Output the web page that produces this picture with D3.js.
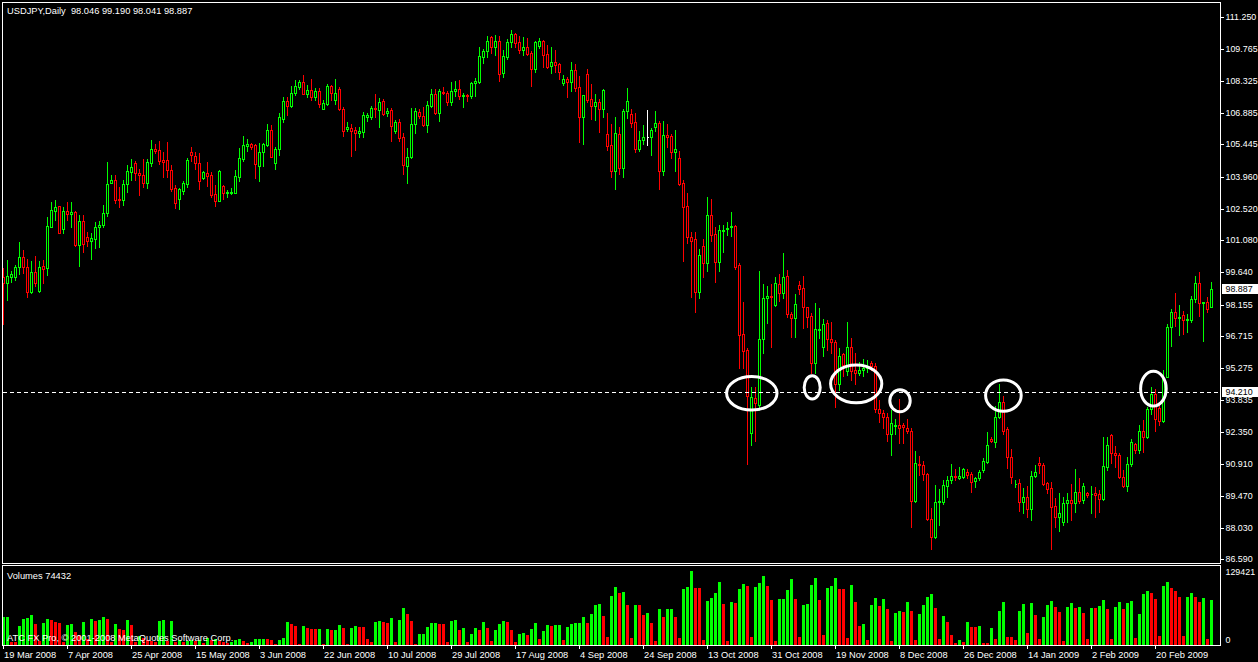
<!DOCTYPE html>
<html><head><meta charset="utf-8">
<script src="https://cdn.jsdelivr.net/npm/d3@7"></script>
<style>html,body{margin:0;padding:0;background:#000;overflow:hidden}</style>
</head><body>
<svg id="c" width="1258" height="662"></svg>
<script>
// ---------- DATA (USDJPY daily) ----------
const symbolTitle = "USDJPY,Daily";
const openP = [
99.40,99.16,99.43,99.40,99.86,100.31,99.86,98.75,99.63,98.80,
99.90,99.81,101.70,102.43,102.64,101.62,102.42,102.28,102.37,100.87,
101.96,101.25,101.07,101.16,101.68,101.77,102.34,103.70,103.81,102.98,
102.93,103.63,104.20,104.58,104.13,104.06,103.70,104.62,105.24,105.19,
104.74,104.74,104.28,103.45,102.95,103.34,103.63,105.12,104.93,104.59,
103.93,104.13,104.04,103.19,102.89,103.55,103.22,103.22,103.25,103.98,
104.78,105.39,105.46,105.42,104.48,105.12,105.42,106.10,104.62,105.22,
106.60,107.42,107.19,107.77,108.04,108.28,107.74,107.92,107.60,107.89,
107.07,107.28,108.10,107.46,107.95,107.04,106.13,106.18,106.10,105.95,
106.02,106.68,106.70,107.10,107.01,107.43,106.86,107.00,106.05,106.48,
105.80,104.48,104.86,106.36,106.92,106.75,106.33,107.19,107.74,106.86,
107.84,107.77,107.36,107.89,107.96,107.66,107.68,107.65,108.22,108.30,
109.43,109.68,110.31,109.89,110.13,108.68,109.43,110.08,110.46,110.08,
109.74,109.86,109.61,108.87,109.92,110.13,109.55,109.02,109.19,109.10,
108.25,108.40,108.30,108.83,108.04,106.71,108.65,107.49,107.20,107.37,
107.04,105.90,105.42,104.25,105.92,104.39,106.96,106.81,106.45,105.24,
105.65,105.77,105.77,106.22,106.40,104.25,105.86,105.83,105.11,104.83,
103.68,102.64,101.25,101.13,98.75,100.83,100.04,102.24,101.37,100.11,
101.50,101.58,101.69,101.74,99.96,96.83,96.10,92.34,93.90,93.60,
96.58,98.45,98.55,98.13,99.10,98.71,99.46,97.72,97.54,99.04,
98.90,98.04,97.64,95.52,97.00,96.22,97.31,96.58,96.48,94.55,
95.90,95.15,96.25,95.19,95.04,95.19,95.27,95.50,95.35,93.43,
93.22,93.04,92.28,92.65,92.70,92.69,92.57,92.43,89.25,90.92,
90.86,90.46,88.40,87.59,89.20,89.17,89.93,90.19,90.37,90.26,
90.34,90.57,90.45,90.16,90.27,90.64,91.02,92.05,91.93,93.04,
93.74,92.49,91.22,90.00,90.04,89.20,89.40,88.86,90.37,90.95,
90.86,90.04,89.83,89.01,88.52,88.30,89.13,89.28,89.16,89.66,
89.28,89.61,89.54,89.61,89.55,89.31,90.80,92.22,91.40,91.33,
90.34,89.93,90.90,91.81,91.55,92.42,92.16,93.43,94.10,93.45,
92.89,94.89,97.13,97.83,97.57,97.69,97.46,97.46,98.40,99.13,
98.22,98.27,98.046];
const highP = [
99.81,100.19,99.69,99.96,101.00,100.65,100.22,100.14,100.39,100.14,
100.19,102.16,102.84,102.92,102.64,102.58,102.83,102.83,102.42,102.24,
102.24,101.45,101.43,101.93,101.96,102.69,104.65,104.06,104.06,103.52,
103.83,104.51,104.80,104.70,104.31,104.80,104.78,105.65,105.46,105.59,
105.10,105.56,104.51,103.60,103.45,103.80,104.84,105.31,105.12,105.05,
104.24,104.65,104.18,103.60,104.28,103.60,103.37,103.45,104.28,105.28,
105.83,105.69,105.52,105.46,105.49,105.52,106.37,106.33,105.31,106.86,
107.60,107.60,108.10,108.37,108.37,108.58,108.15,108.40,107.99,107.99,
107.46,108.19,108.15,108.40,108.04,107.16,106.48,106.37,106.22,106.22,
106.90,106.85,107.20,107.74,107.54,107.52,107.10,107.12,106.55,106.60,
105.95,105.27,107.08,107.08,107.04,107.13,107.43,107.95,107.95,107.95,
108.07,107.89,108.30,108.33,108.37,107.80,107.74,108.28,108.45,109.89,
109.80,110.37,110.37,110.42,110.37,109.74,110.24,110.65,110.49,110.37,
110.31,110.27,109.71,110.16,110.27,110.19,109.95,109.86,109.74,109.16,
108.60,108.49,109.20,109.10,108.55,107.69,108.87,108.19,107.72,107.49,
107.96,106.89,106.37,106.70,106.25,107.04,108.01,107.04,106.86,106.05,
106.33,107.01,106.18,106.98,106.51,106.51,106.37,105.92,106.10,105.14,
103.83,103.22,101.48,101.48,100.67,101.13,103.04,102.96,101.70,101.78,
101.78,101.93,102.36,101.78,100.04,98.30,96.20,94.40,94.40,99.69,
99.10,99.00,99.10,99.43,99.55,100.49,99.74,97.84,98.63,99.24,
99.46,98.07,97.77,98.22,97.99,97.49,97.46,97.39,96.55,96.17,
95.95,97.36,96.63,95.95,95.57,95.70,95.65,95.60,95.50,93.83,
93.37,93.22,93.37,92.95,93.86,92.80,92.95,92.54,91.50,91.28,
91.07,90.49,88.90,89.96,89.77,90.19,90.37,90.92,90.68,90.80,
90.72,90.68,90.57,90.34,90.64,91.17,92.39,92.13,93.56,94.55,
94.01,92.58,91.58,90.19,90.22,89.84,89.92,90.61,90.86,91.22,
90.98,90.12,90.12,89.36,89.58,89.43,89.61,90.01,90.68,90.27,
90.04,89.66,89.92,89.89,89.74,92.16,92.16,92.28,91.74,91.43,
90.64,91.25,92.04,91.89,92.69,92.92,93.52,94.43,94.31,93.75,
95.19,97.28,97.95,98.71,98.15,97.87,97.74,98.55,99.46,99.65,
98.30,98.52,99.190];
const lowP = [
97.30,98.37,99.20,99.28,99.55,99.58,98.49,98.70,99.02,98.75,
99.16,99.51,101.68,102.00,101.40,101.40,102.00,101.70,100.83,99.93,
100.57,100.84,100.24,100.75,100.80,101.68,102.19,103.68,102.77,102.59,
102.69,103.30,103.83,103.83,103.15,103.52,103.46,104.48,105.04,104.55,
103.98,103.98,103.33,102.57,102.51,103.17,103.52,104.70,104.33,103.42,
103.87,103.57,103.04,102.66,102.86,102.96,103.07,103.19,103.22,103.78,
104.70,105.15,105.24,103.93,103.80,104.48,105.37,104.86,104.33,104.96,
106.48,106.78,107.16,107.69,107.98,107.72,107.60,107.46,107.46,107.16,
107.04,107.24,107.46,107.30,107.01,105.83,106.05,104.93,105.19,105.80,
105.80,106.50,106.60,106.70,106.22,106.80,106.75,105.60,105.95,105.60,
104.10,103.70,104.81,105.95,106.63,106.28,106.02,107.13,106.83,106.52,
107.74,107.24,107.24,107.66,107.52,107.16,107.42,107.57,107.65,108.22,
109.13,109.43,109.58,109.51,108.34,108.50,109.31,109.89,109.86,109.62,
109.51,109.51,108.11,108.75,109.81,108.98,108.90,108.68,108.75,108.40,
108.15,107.58,107.89,107.89,105.57,105.46,107.39,106.61,106.55,106.02,
106.71,105.19,103.95,103.40,104.10,103.95,106.63,106.25,105.10,105.16,
105.46,105.42,104.96,106.07,103.43,104.05,105.31,104.81,104.25,103.60,
100.16,100.98,98.52,97.84,98.45,99.43,99.71,101.07,99.20,99.71,
100.57,101.33,101.28,99.80,95.27,95.27,90.90,91.78,91.98,93.37,
95.98,97.34,96.25,98.10,98.34,98.45,97.60,96.68,96.70,98.65,
97.08,97.16,95.07,95.07,96.63,95.83,96.10,95.95,93.50,94.30,
94.92,94.96,94.73,94.55,94.96,94.90,95.10,95.20,93.30,92.84,
92.54,91.98,91.33,92.30,91.86,91.86,92.31,88.07,89.20,90.42,
90.19,88.37,87.04,87.54,88.14,89.10,89.43,90.07,90.19,90.22,
90.27,90.27,89.66,89.89,90.19,90.54,90.98,91.93,91.70,92.99,
92.27,90.75,90.07,89.89,88.80,88.68,88.52,88.37,90.31,90.52,
89.95,89.58,87.04,88.07,87.89,88.14,88.30,88.37,88.75,89.13,
89.13,89.43,88.68,88.52,88.75,89.28,90.65,90.95,90.80,90.27,
89.86,89.70,90.83,91.40,91.40,91.48,92.08,93.19,92.43,92.69,
92.84,94.86,96.28,97.19,96.78,96.83,96.93,97.39,98.30,97.65,
96.52,97.84,98.041];
const closeP = [
99.16,99.46,99.55,99.86,100.31,99.86,98.75,99.66,99.16,99.86,
99.80,101.74,102.46,102.58,101.43,102.42,102.28,102.37,100.87,101.96,
100.92,101.07,101.19,101.68,101.77,102.31,103.63,103.81,102.93,102.92,
103.63,104.24,104.40,104.13,104.04,103.68,104.65,105.25,105.16,104.70,
104.65,104.28,103.42,102.77,103.42,103.68,104.74,104.95,104.59,103.80,
104.18,104.02,103.15,102.89,104.24,103.25,103.27,103.30,104.01,104.81,
105.42,105.46,105.34,104.54,105.08,105.46,106.10,104.89,105.24,106.71,
107.42,107.19,107.77,108.10,108.28,107.74,107.92,107.60,107.89,107.28,
107.31,108.10,107.77,107.77,107.04,106.07,106.22,106.05,105.95,106.05,
106.77,106.77,107.10,107.05,107.39,106.83,106.96,106.30,106.48,105.72,
104.51,104.86,106.36,106.96,106.74,106.33,107.24,107.74,106.86,107.87,
107.77,107.39,107.89,107.96,107.66,107.68,107.65,108.25,108.31,109.46,
109.68,110.13,109.89,110.13,108.63,109.46,110.08,110.46,110.07,109.74,
109.86,109.54,108.87,110.10,110.13,109.51,108.98,109.19,109.07,108.75,
108.40,108.30,108.83,108.02,106.71,107.68,107.46,107.20,107.37,107.04,
107.92,105.37,104.25,105.95,104.39,106.98,107.40,106.43,105.22,105.65,
105.80,105.77,106.10,106.40,104.25,105.86,105.80,105.11,105.22,103.65,
102.61,101.22,101.07,98.75,100.42,100.04,102.24,101.33,100.11,101.55,
101.55,101.66,101.74,99.89,96.78,96.07,94.00,93.95,93.67,96.58,
98.45,98.55,98.52,99.13,98.71,99.40,97.72,97.54,98.19,98.86,
98.04,97.61,95.52,97.04,97.04,97.28,96.58,96.48,94.55,95.83,
95.42,96.25,95.16,95.04,95.19,95.27,95.35,95.35,93.43,93.22,
93.04,92.28,92.77,92.70,92.55,92.58,92.43,89.25,90.98,90.86,
90.46,88.40,87.61,89.20,89.25,89.96,90.19,90.37,90.31,90.37,
90.68,90.42,90.11,90.27,90.54,91.05,91.77,91.96,93.04,93.74,
92.43,91.22,90.31,90.03,89.20,89.40,88.86,90.37,90.55,90.86,
90.00,89.80,88.98,88.52,88.68,89.16,89.28,89.16,89.66,89.25,
89.93,89.51,89.55,89.51,89.31,90.83,91.77,91.43,91.31,90.31,
89.93,90.90,91.92,91.55,92.42,92.16,93.43,94.10,92.96,92.89,
94.77,97.13,97.83,97.57,97.60,97.46,97.50,98.40,99.13,98.22,
98.27,97.98,98.887];
const volumes = [
46500,47200,5000,5000,31500,43100,44800,49800,34800,6600,
36500,43100,41500,38200,36500,5000,33200,34800,21600,16600,
38200,10000,43100,39800,41500,46500,43100,5000,34800,26500,
24900,41500,33200,5000,14900,11600,8300,6600,5000,39800,
41500,6600,39800,5000,8300,5000,6600,8300,6600,8300,
3300,11600,8300,10000,6600,5000,3300,5000,8300,10000,
6600,3300,5000,10000,10300,10600,9600,8300,1700,8300,
11600,38200,34800,31500,1700,31500,28200,26500,26000,26800,
1200,26500,24900,25300,33200,28200,1700,28200,31500,29900,
29900,10000,5000,38200,39800,38200,36500,44800,5000,41500,
61400,51400,39800,2200,17800,18200,29900,36500,36800,34800,
34300,5000,39800,41500,24900,28200,5000,18200,28200,24900,
38200,28200,6600,24900,34800,39800,38200,24900,5000,18200,
19900,16600,26500,36500,10000,23200,33200,31500,32400,33200,
8300,29900,34800,35700,36500,46500,36500,51400,66400,68000,
48100,13300,81300,96200,86300,87900,66400,11600,66400,66000,
49800,53100,36500,6600,59700,46500,59700,60200,46500,11600,
92900,96200,122800,94600,94000,8300,73000,78000,86300,104500,
68000,6600,71300,69700,92900,101200,97900,13300,96200,102900,
114500,97900,74700,6600,76300,76800,91200,109500,76300,13300,
66400,68000,99500,111200,74700,16600,94600,97900,111200,92900,
92500,11600,99500,71300,31500,34800,8300,66400,78000,64700,
76300,59700,6600,53100,56400,54700,71300,56400,8300,51400,
66400,79600,84600,61400,10000,48100,38200,16600,3300,8300,
5000,38200,29900,29500,31000,4000,3300,28200,10000,56400,
71300,13300,13000,8300,56400,68000,19900,69700,49800,10000,
46500,66400,73000,63000,54700,6600,63000,69700,61400,63000,
53100,10000,61400,61000,64700,74700,59700,10000,63000,71300,
59700,69700,73000,11600,51400,84600,89600,86300,76300,14900,
97900,104500,94600,89600,79600,14900,79600,86300,79600,71300,
78000,10000,74432];
const dateLabels = ["19 Mar 2008","7 Apr 2008","25 Apr 2008","15 May 2008","3 Jun 2008","22 Jun 2008",
 "10 Jul 2008","29 Jul 2008","17 Aug 2008","4 Sep 2008","24 Sep 2008","13 Oct 2008","31 Oct 2008",
 "19 Nov 2008","8 Dec 2008","26 Dec 2008","14 Jan 2009","2 Feb 2009","20 Feb 2009"];
const dateBars = [0,16,32,48,64,80,96,112,128,144,160,176,192,208,224,240,256,272,288];
const priceTicks = [111.250,109.765,108.325,106.885,105.445,103.960,102.520,101.080,99.640,98.155,
 96.715,95.275,93.835,92.350,90.910,89.470,88.030,86.590];
const priceMin = 86.590, priceMax = 111.250;
const volumeMax = 129421;
const markedLevel = 94.210;
// hand-drawn ellipses: [centre bar, centre price, half width (bars), half height (price)]
const ellipses = [[187.2,94.13,6.3,0.76],[202.3,94.40,2.0,0.53],[213.3,94.56,6.4,0.86],
 [224.25,93.79,2.55,0.50],[250.1,94.03,4.45,0.71],[287.6,94.34,3.2,0.79]];

// ---------- DRAWING ----------
const n = Math.min(openP.length, highP.length, lowP.length, closeP.length);
const svg = d3.select("#c");
const FONT = "'Liberation Sans', Arial, sans-serif";
const FS = 9.3;
svg.append("rect").attr("width",1258).attr("height",662).attr("fill","#000");

const x = d3.scaleLinear().domain([0, 302]).range([3, 1211]);
const y = d3.scaleLinear().domain([priceMin, priceMax]).range([559.2, 16.7]);
const yv = d3.scaleLinear().domain([0, volumeMax]).range([645, 567]);
const GREEN = "#00ff00", RED = "#ff0000";

const defs = svg.append("defs");
defs.append("clipPath").attr("id","mainClip").append("rect").attr("x",3).attr("y",3).attr("width",1217).attr("height",560);
defs.append("clipPath").attr("id","volClip").append("rect").attr("x",3).attr("y",566).attr("width",1217).attr("height",79);

// frames
const frame = svg.append("g").attr("stroke","#fff").attr("stroke-width",1).attr("fill","none").attr("shape-rendering","crispEdges");
frame.append("path").attr("d","M2.5,563.5V2.5H1220.5V563.5H2.5");
frame.append("path").attr("d","M2.5,645.5V565.5H1220.5V645.5H2.5");

// candles
const cg = svg.append("g").attr("clip-path","url(#mainClip)").attr("shape-rendering","crispEdges");
for (let i = 0; i < n; i++) {
  const o = openP[i], h = highP[i], l = lowP[i], c = closeP[i];
  const col = c > o ? GREEN : (c < o ? RED : "#ffffff");
  const cx = Math.round(x(i));
  const yh = Math.round(y(h)), yl = Math.round(y(l));
  cg.append("line").attr("x1",cx+0.5).attr("x2",cx+0.5).attr("y1",yh).attr("y2",yl+1)
    .attr("stroke",col).attr("stroke-width",1);
  const yt = Math.round(y(Math.max(o,c))) + 0.5, yb = Math.round(y(Math.min(o,c))) + 0.5;
  cg.append("path").attr("d",`M${cx-0.5},${yt}H${cx+1.5}V${yb}H${cx-0.5}Z`)
    .attr("fill","#000").attr("stroke",col).attr("stroke-width",1);
}

// dashed horizontal level
svg.append("line").attr("x1",3).attr("x2",1220).attr("y1",Math.round(y(markedLevel))+0.5).attr("y2",Math.round(y(markedLevel))+0.5)
  .attr("stroke","#fff").attr("stroke-width",1).attr("stroke-dasharray","4,3").attr("shape-rendering","crispEdges");

// ellipses
const eg = svg.append("g").attr("clip-path","url(#mainClip)");
ellipses.forEach(e => {
  eg.append("ellipse").attr("cx",x(e[0])).attr("cy",y(e[1]))
    .attr("rx",x(e[0]+e[2])-x(e[0])).attr("ry",y(e[1]-e[3])-y(e[1]))
    .attr("fill","none").attr("stroke","#fff").attr("stroke-width",3);
});

// volumes
const vg = svg.append("g").attr("clip-path","url(#volClip)").attr("shape-rendering","crispEdges");
for (let i = 0; i < Math.min(n, volumes.length); i++) {
  const col = (i === 0 || volumes[i] > volumes[i-1]) ? GREEN : RED;
  const cx = Math.round(x(i));
  const top = Math.round(yv(volumes[i]));
  vg.append("rect").attr("x",cx-1).attr("y",top).attr("width",3).attr("height",Math.max(0,645-top)).attr("fill",col);
}

// axes and texts (on top)
const ax = svg.append("g").attr("font-family",FONT).attr("font-size",FS).attr("fill","#fff");
const PFS = 8.9;
const fmt = d3.format(".3f");
priceTicks.forEach(p => {
  const yy = Math.round(y(p));
  ax.append("line").attr("x1",1221).attr("x2",1224).attr("y1",yy+0.5).attr("y2",yy+0.5)
    .attr("stroke","#fff").attr("shape-rendering","crispEdges");
  ax.append("text").attr("x",1225.5).attr("y",yy+3.3).attr("font-size",PFS).text(fmt(p));
});
function priceTag(p) {
  const yy = y(p);
  ax.append("rect").attr("x",1222).attr("y",Math.round(yy)-5).attr("width",36).attr("height",10).attr("fill","#fff");
  ax.append("text").attr("x",1225.5).attr("y",yy+3.3).attr("font-size",PFS).attr("fill","#000").text(fmt(p));
}
priceTag(closeP[n-1]);
priceTag(markedLevel);

ax.append("text").attr("x",1225.5).attr("y",575).attr("font-size",PFS).text(String(volumeMax));
ax.append("text").attr("x",1225.5).attr("y",642.6).attr("font-size",PFS).text("0");

// date axis
dateBars.forEach((b, k) => {
  const cx = Math.round(x(b));
  ax.append("line").attr("x1",cx+0.5).attr("x2",cx+0.5).attr("y1",646).attr("y2",649)
    .attr("stroke","#fff").attr("shape-rendering","crispEdges");
  ax.append("text").attr("x",cx+1).attr("y",658.3).text(dateLabels[k]);
});

// titles
ax.append("text").attr("x",7).attr("y",14.2).style("white-space","pre")
  .text(`${symbolTitle}  ${fmt(openP[n-1])} ${fmt(highP[n-1])} ${fmt(lowP[n-1])} ${fmt(closeP[n-1])}`);
ax.append("text").attr("x",7).attr("y",579).style("white-space","pre").text(`Volumes ${volumes[volumes.length-1]}`);
ax.append("text").attr("x",7).attr("y",640.8).text("ATC FX Pro, © 2001-2008 MetaQuotes Software Corp.");
</script>
</body></html>
